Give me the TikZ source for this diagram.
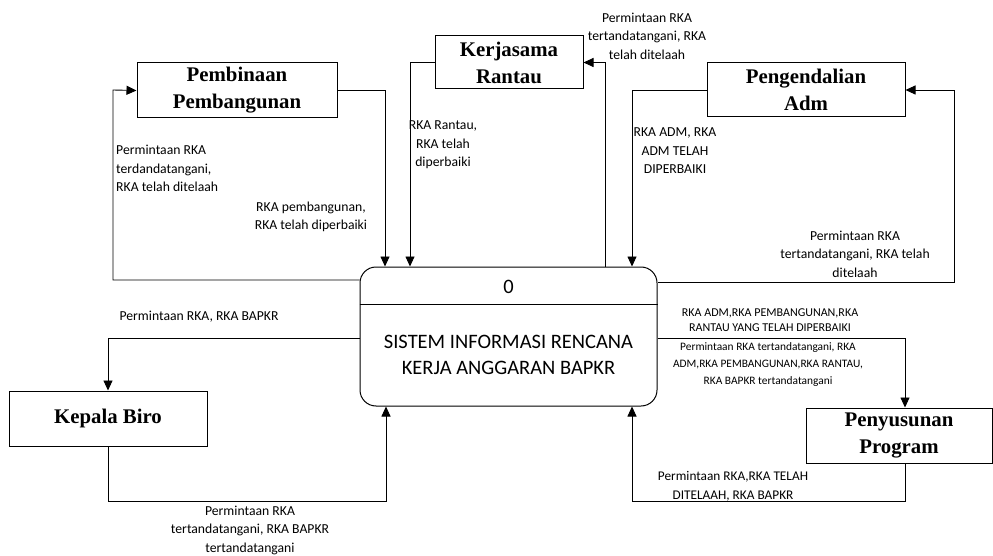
\documentclass[tikz,border=0pt]{standalone}
\usepackage{fontspec}
\setmainfont{Liberation Serif}
\newfontfamily\lblfont{Carlito}
\usetikzlibrary{arrows.meta}
\begin{document}
\begin{tikzpicture}[x=1pt,y=-1pt,
  ent/.style={draw, line width=1pt, fill=white, inner sep=0pt, align=center,
    font=\fontsize{20.8}{27}\selectfont\bfseries},
  flow/.style={line width=0.9pt, -{Triangle[length=10pt,width=9pt]}},
  lbl/.style={align=center, inner sep=0pt, font=\lblfont\fontsize{13.7}{18.5}\selectfont},
  smlbl/.style={align=center, inner sep=0pt, font=\lblfont\fontsize{11.6}{16}\selectfont},
  proctext/.style={inner sep=0pt, align=center, font=\lblfont\fontsize{20.5}{26}\selectfont}]
\useasboundingbox (0,0) rectangle (993,556);
\fill[white] (0,0) rectangle (993,556);
% entities
\node[ent, minimum width=200pt, minimum height=55pt] (pb) at (237,90.5) {Pembinaan\\Pembangunan};
\node[ent, minimum width=148pt, minimum height=53pt] (kr) at (509,62.5) {Kerjasama\\Rantau};
\node[ent, minimum width=198pt, minimum height=54pt] (pa) at (806,90) {Pengendalian\\Adm};
\node[ent, minimum width=198pt, minimum height=55pt] (kb) at (108,418.5) {Kepala Biro};
\node[ent, minimum width=186pt, minimum height=55pt] (pp) at (899,435.5) {Penyusunan\\Program};
% process
\node[draw, line width=1pt, rounded corners=16pt, minimum width=297pt, minimum height=139pt, inner sep=0pt] (proc) at (508.5,336.5) {};
\draw[line width=1pt] (proc.west |- 0,304) -- (proc.east |- 0,304);
\node[proctext] (pnum) at (508.5,287) {0};
\node[proctext] (pname) at (508.5,355) {SISTEM INFORMASI RENCANA\\KERJA ANGGARAN BAPKR};
% flows
\draw[flow] (proc.west |- 0,280) -- (113,280) -- (113,90) -- (pb.west);
\draw[flow] (pb.east) -| (proc.north -| 385,0);
\draw[flow] (kr.west) -| (proc.north -| 410,0);
\draw[flow] (proc.north -| 605,0) |- (kr.east);
\draw[flow] (pa.west) -| (proc.north -| 632,0);
\draw[flow] (proc.east |- 0,282) -- (954,282) -- (954,90) -- (pa.east);
\draw[flow] (proc.west |- 0,338) -| (kb.north);
\draw[flow] (kb.south) -- (108,501) -- (386,501) -- (proc.south -| 386,0);
\draw[flow] (proc.east |- 0,338) -| (pp.north -| 905,0);
\draw[flow] (pp.south -| 905,0) -- (905,501) -- (632,501) -- (proc.south -| 632,0);
% labels
\node[lbl, align=left, anchor=west] (l1) at (116,168.5) {Permintaan RKA\\terdandatangani,\\RKA telah ditelaah};
\node[lbl] (l2) at (311,217) {RKA pembangunan,\\RKA telah diperbaiki};
\node[lbl] (l3) at (647,36) {Permintaan RKA\\tertandatangani, RKA\\telah ditelaah};
\node[lbl] (l4) at (443,145) {RKA Rantau,\\RKA telah\\diperbaiki};
\node[lbl] (l5) at (675,151) {RKA ADM, RKA\\ADM TELAH\\DIPERBAIKI};
\node[lbl] (l6) at (855,254) {Permintaan RKA\\tertandatangani, RKA telah\\ditelaah};
\node[smlbl, font=\lblfont\fontsize{12}{15}\selectfont] (l7) at (770,320.5) {RKA ADM,RKA PEMBANGUNAN,RKA\\RANTAU YANG TELAH DIPERBAIKI};
\node[smlbl, font=\lblfont\fontsize{11.4}{17}\selectfont] (l8) at (768,365) {Permintaan RKA tertandatangani, RKA\\ADM,RKA PEMBANGUNAN,RKA RANTAU,\\RKA BAPKR tertandatangani};
\node[lbl, font=\lblfont\fontsize{13.3}{19}\selectfont] (l9) at (733,486.5) {Permintaan RKA,RKA TELAH\\DITELAAH, RKA BAPKR};
\node[lbl] (l10) at (199,317) {Permintaan RKA, RKA BAPKR};
\node[lbl] (l11) at (250,530) {Permintaan RKA\\tertandatangani, RKA BAPKR\\tertandatangani};
\end{tikzpicture}
\end{document}
